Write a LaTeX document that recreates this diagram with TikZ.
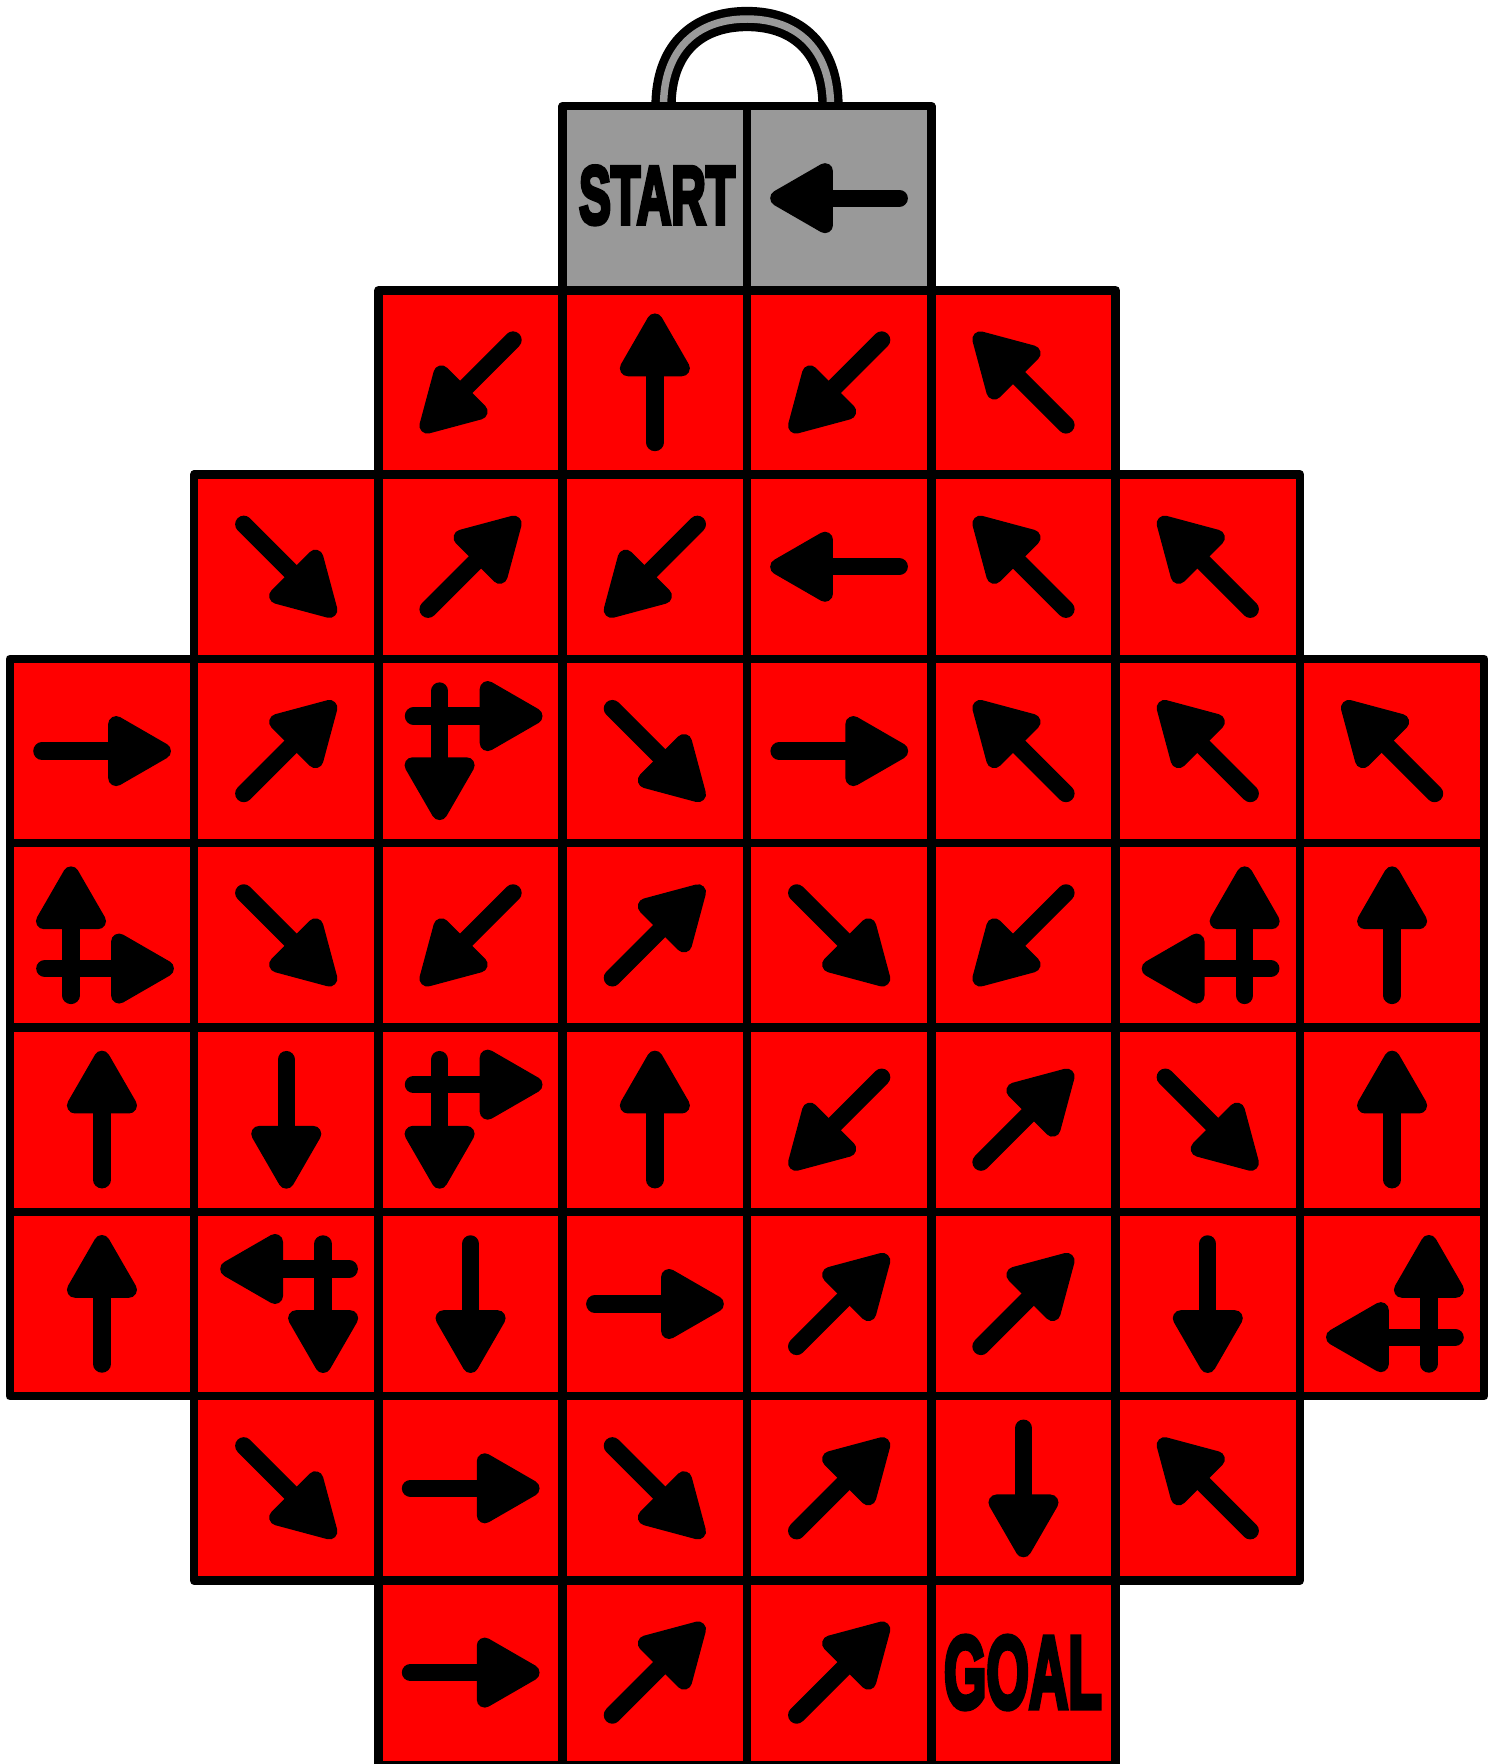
\documentclass[tikz,border=0pt]{standalone}
\usepackage{fontspec}
\usepackage{tikz}
\newfontfamily\signfont[FakeBold=5.5]{Liberation Sans}
\definecolor{boardred}{RGB}{255,0,0}
\definecolor{boardgray}{RGB}{153,153,153}

\begin{document}
\begin{tikzpicture}[x=2cm, y=2cm,
    tile/.style={draw=black, line width=2.62pt, line join=round},
    mv/.pic={
      \filldraw[line width=4.94pt, line join=round] (0.077,0.1465) -- (0.331,0) -- (0.077,-0.1465) -- cycle;
      \draw[line width=5.34pt, line cap=round] (-0.326,0) -- (0.12,0);}]
  \useasboundingbox (-0.0532,-8.996) rectangle (8.0749,0.5752);
  % handle of the board
  \draw[line width=2.6pt, double=boardgray, double distance=2.3pt]
    (3.547,-0.05) -- (3.547,0) .. controls (3.547,0.3) and (3.72,0.472) .. (4,0.472)
    .. controls (4.28,0.472) and (4.453,0.3) .. (4.453,0) -- (4.453,-0.05);
  \foreach \c in {3,4}{\filldraw[tile, fill=boardgray] (\c,-1) rectangle (\c+1,0);}
  \foreach \r/\cmin/\cmax in {1/2/5,2/1/6,3/0/7,4/0/7,5/0/7,6/0/7,7/1/6,8/2/5}{
    \foreach \c in {\cmin,...,\cmax}{
      \filldraw[tile, fill=boardred] (\c,-\r-1) rectangle (\c+1,-\r);}}
  \node[inner sep=0pt] (start) at (3.512,-0.4845)
       {\resizebox{1.693cm}{0.622cm}{\signfont\bfseries START}};
  \node[inner sep=0pt] (goal) at (5.4965,-8.4997)
       {\resizebox{1.711cm}{0.778cm}{\signfont\bfseries GOAL}};
  % single moves: column/row/direction
  \foreach \c/\r/\a in {4/0/180,
      2/1/225,3/1/90,4/1/225,5/1/135,
      1/2/315,2/2/45,3/2/225,4/2/180,5/2/135,6/2/135,
      0/3/0,1/3/45,3/3/315,4/3/0,5/3/135,6/3/135,7/3/135,
      1/4/315,2/4/225,3/4/45,4/4/315,5/4/225,7/4/90,
      0/5/90,1/5/270,3/5/90,4/5/225,5/5/45,6/5/315,7/5/90,
      0/6/90,2/6/270,3/6/0,4/6/45,5/6/45,6/6/270,
      1/7/315,2/7/0,3/7/315,4/7/45,5/7/270,6/7/135,
      2/8/0,3/8/45,4/8/45}{
    \pic[rotate=\a] at (\c+0.5,-\r-0.5) {mv};}
  % two-way moves
  \foreach \c/\r/\ha/\hy/\va/\vx in {2/3/0/0.19/270/-0.168, 0/4/0/-0.18/90/-0.168,
      6/4/180/-0.18/90/0.2, 2/5/0/0.19/270/-0.168, 1/6/180/0.19/270/0.2, 7/6/180/-0.18/90/0.2}{
    \pic[rotate=\ha] at (\c+0.516,-\r-0.5+\hy) {mv};
    \pic[rotate=\va] at (\c+0.5+\vx,-\r-0.5) {mv};}
\end{tikzpicture}
\end{document}
